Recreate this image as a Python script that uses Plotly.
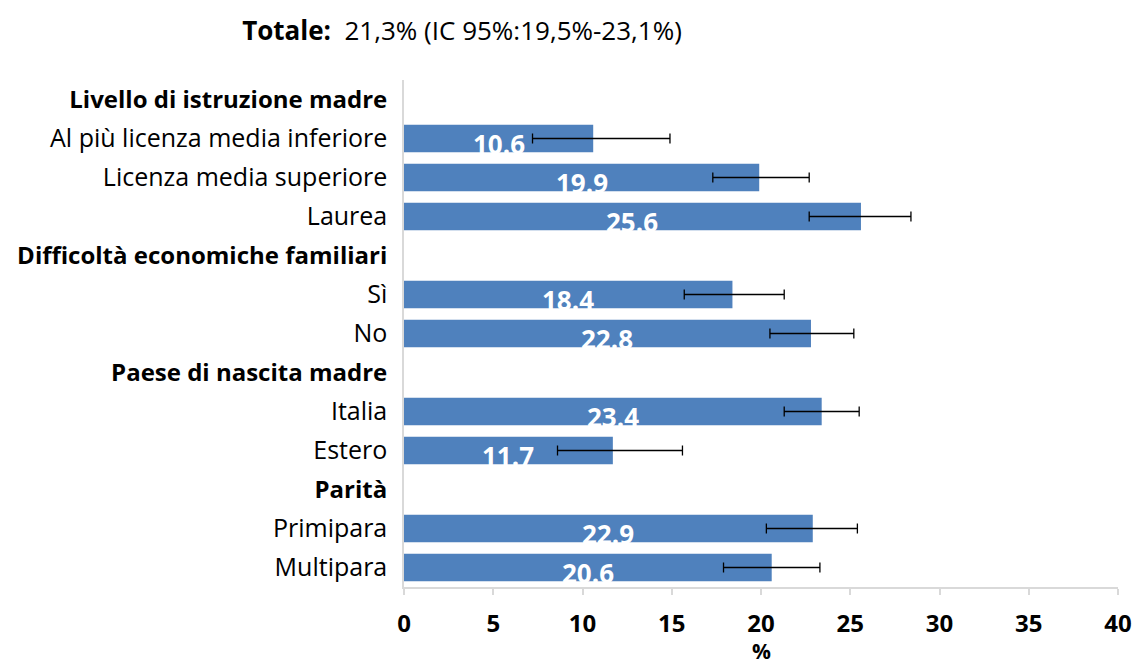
import plotly.graph_objects as go

# righe dall'alto verso il basso; None = riga di intestazione
labels = [
    "Livello di istruzione madre",
    "Al più licenza media inferiore",
    "Licenza media superiore",
    "Laurea",
    "Difficoltà economiche familiari",
    "Sì",
    "No",
    "Paese di nascita madre",
    "Italia",
    "Estero",
    "Parità",
    "Primipara",
    "Multipara",
]
is_header = [True, False, False, False, True, False, False, True, False, False, True, False, False]
values = [None, 10.6, 19.9, 25.6, None, 18.4, 22.8, None, 23.4, 11.7, None, 22.9, 20.6]
ci_low = [None, 7.2, 17.3, 22.7, None, 15.7, 20.5, None, 21.3, 8.6, None, 20.3, 17.9]
ci_high = [None, 14.9, 22.7, 28.4, None, 21.3, 25.2, None, 25.5, 15.6, None, 25.4, 23.3]

x_ticks = [0, 5, 10, 15, 20, 25, 30, 35, 40]

FONT = "Open Sans"
BAR_COLOR = "#4F81BD"
W, H = 1135, 667
M_L, M_R, M_T, M_B = 404, 17, 80, 80
PLOT_H = H - M_T - M_B

rows = list(range(len(labels)))
err_plus = [None if v is None else h - v for v, h in zip(values, ci_high)]
err_minus = [None if v is None else v - l for v, l in zip(values, ci_low)]
ticktext = [
    f"<b><span style='font-size:24px'>{t}</span></b>" if h else t
    for t, h in zip(labels, is_header)
]

fig = go.Figure()
fig.add_trace(go.Bar(
    x=values,
    y=rows,
    orientation="h",
    width=0.7,
    marker=dict(color=BAR_COLOR, line=dict(width=0)),
    error_x=dict(
        type="data", symmetric=False,
        array=err_plus, arrayminus=err_minus,
        color="black", thickness=1.3, width=5,
    ),
    showlegend=False,
    hoverinfo="skip",
))

# etichette dei valori (bianche, spostate verso il basso)
for r, v in zip(rows, values):
    if v is None:
        continue
    fig.add_annotation(
        x=v / 2, y=r, text=f"<b>{v:.1f}</b>", showarrow=False,
        font=dict(family=FONT, size=26, color="white"),
        xanchor="center", yanchor="middle", yshift=-5,
    )

# titolo dell'asse x
fig.add_annotation(
    x=0.5, xref="paper", y=-(651 - (H - M_B)) / PLOT_H, yref="paper",
    text="<b>%</b>", showarrow=False, yanchor="middle",
    font=dict(family=FONT, size=21, color="black"),
)

fig.update_layout(
    width=W,
    height=H,
    margin=dict(l=M_L, r=M_R, t=M_T, b=M_B),
    plot_bgcolor="white",
    paper_bgcolor="white",
    font=dict(family=FONT, size=20, color="black"),
    title=dict(
        text="<b>Totale:</b>  21,3% (IC 95%:19,5%-23,1%)",
        x=462 / W, xanchor="center",
        y=1 - 31 / H, yanchor="middle",
        font=dict(family=FONT, size=26, color="black"),
    ),
    xaxis=dict(
        range=[0, 40],
        automargin=False,
        tickvals=x_ticks,
        ticktext=[f"<b>{t}</b>" for t in x_ticks],
        tickfont=dict(family=FONT, size=24, color="black"),
        showgrid=False,
        zeroline=False,
        showline=True, linecolor="#D9D9D9", linewidth=2,
        ticks="outside", tickcolor="#D9D9D9", ticklen=6, tickwidth=1.5,
        ticklabelstandoff=8,
    ),
    yaxis=dict(
        range=[len(labels) - 0.5, -0.5],
        automargin=False,
        tickvals=rows,
        ticktext=ticktext,
        tickfont=dict(family=FONT, size=25, color="black"),
        showgrid=False,
        zeroline=False,
        showline=True, linecolor="#D9D9D9", linewidth=1.5,
        ticks="", ticklabelstandoff=10,
    ),
)

# niente margine della pagina attorno al grafico
fig.write_html(
    "out.html",
    config={"displayModeBar": False},
    post_script="document.body.style.margin='0';",
)
